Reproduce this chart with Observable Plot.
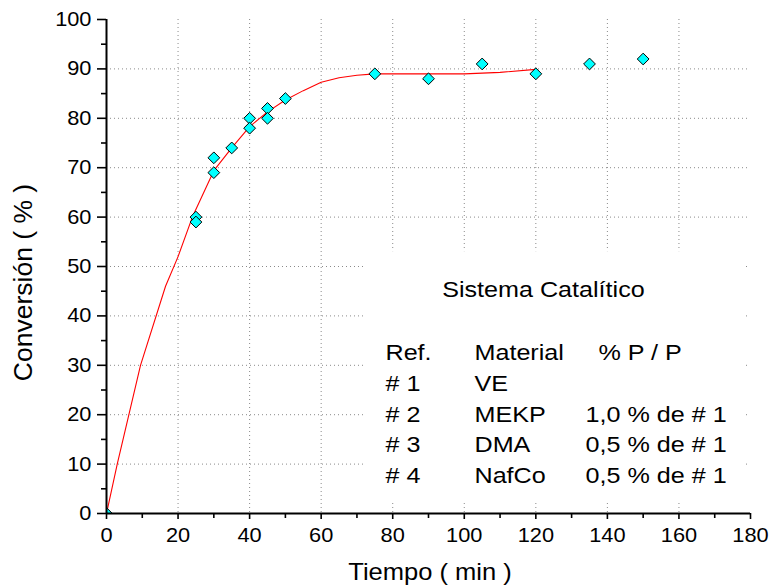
<!DOCTYPE html>
<html>
<head>
<meta charset="utf-8">
<script src="https://cdn.jsdelivr.net/npm/d3@7"></script>
<script src="https://cdn.jsdelivr.net/npm/@observablehq/plot@0.6"></script>
<style>
  html, body { margin: 0; padding: 0; background: #fff; }
  #chart { width: 771px; height: 586px; }
  svg { font-family: "Liberation Sans", Arial, sans-serif; }
</style>
</head>
<body>
<div id="chart"></div>
<script>
// Measured points (Tiempo, min ; Conversión, %)
const timePts = [0, 25, 25, 30, 30, 35, 40, 40, 45, 45, 50, 75, 90, 105, 120, 135, 150];
const convPts = [0, 60, 59, 72, 69, 74, 80, 78, 82, 80, 84, 89, 88, 91, 89, 91, 92];

// Fitted curve (red line)
const fitTime = [0, 3, 9.5, 16.5, 20, 24, 30, 35, 40, 45, 50, 55, 60, 65, 70, 75, 80, 90, 100, 110, 120];
const fitConv = [0, 10, 30, 46, 52, 60, 69.4, 74, 78.3, 81.3, 83.7, 85.6, 87.3, 88.2, 88.7, 89, 89, 89, 89, 89.3, 89.9];

// Axis ticks
const xTicks = [0, 20, 40, 60, 80, 100, 120, 140, 160, 180];
const xMinor = [10, 30, 50, 70, 90, 110, 130, 150, 170];
const yTicks = [0, 10, 20, 30, 40, 50, 60, 70, 80, 90, 100];
const yMinor = [5, 15, 25, 35, 45, 55, 65, 75, 85, 95];
const xGrid = [20, 40, 60, 80, 100, 120, 140, 160];
const yGrid = [10, 20, 30, 40, 50, 60, 70, 80, 90];

// Annotation texts
const boxTitle = "Sistema Catalítico";
const refs = ["Ref.", "# 1", "# 2", "# 3", "# 4"];
const materials = ["Material", "VE", "MEKP", "DMA", "NafCo"];
const pctHeader = "% P / P";
const pcts = ["1,0 % de # 1", "0,5 % de # 1", "0,5 % de # 1"];

const points = timePts.map((t, i) => ({t, c: convPts[i]}));
const fit = fitTime.map((t, i) => ({t, c: fitConv[i]}));

const annFont = 21.5;
const annLH = 30.7 / annFont;
const annStyle = {frameAnchor: "top-left", textAnchor: "start", lineAnchor: "top",
  fontSize: annFont, fill: "black", lineHeight: annLH};

const chart = Plot.plot({
  width: 771,
  height: 586,
  marginLeft: 106,
  marginRight: 21,
  marginTop: 19,
  marginBottom: 73,
  style: {fontFamily: "'Liberation Sans', Arial, sans-serif", background: "white", color: "black"},
  x: {domain: [0, 180]},
  y: {domain: [0, 100]},
  marks: [
    Plot.gridX(xGrid, {stroke: "#8a8a8a", strokeOpacity: 1, strokeDasharray: "1,3", strokeWidth: 1}),
    Plot.gridY(yGrid, {stroke: "#8a8a8a", strokeOpacity: 1, strokeDasharray: "1,3", strokeWidth: 1}),
    // white background of the annotation block
    Plot.rect([0], {x1: () => 72.4, x2: () => 178.6, y1: () => 2.6, y2: () => 53, fill: "white"}),
    Plot.line(fit, {x: "t", y: "c", stroke: "#ff0000", strokeWidth: 1.1}),
    Plot.dot(points, {x: "t", y: "c", symbol: "diamond2", r: 5.3, fill: "#00ffff", stroke: "black", strokeWidth: 1, clip: true}),
    Plot.ruleX([0], {stroke: "black", strokeWidth: 2}),
    Plot.ruleY([0], {stroke: "black", strokeWidth: 2}),
    Plot.axisX({ticks: xTicks, tickSize: 6, tickPadding: 8, fontSize: 20, label: null, stroke: "black", strokeWidth: 1.6, fill: "black"}),
    Plot.axisX({ticks: xMinor, tickSize: 5, text: null, label: null, stroke: "black", strokeWidth: 1.6}),
    Plot.axisY({ticks: yTicks, tickSize: 9, tickPadding: 6, fontSize: 20, label: null, stroke: "black", strokeWidth: 1.6, fill: "black"}),
    Plot.axisY({ticks: yMinor, tickSize: 5, text: null, label: null, stroke: "black", strokeWidth: 1.6}),
    // axis titles
    Plot.text(["Tiempo ( min )"], {frameAnchor: "bottom", text: d => d, textAnchor: "middle", lineAnchor: "top",
      dx: 1.5, dy: 50, fontSize: 23, fill: "black"}),
    Plot.text(["Conversión ( % )"], {frameAnchor: "left", text: d => d, textAnchor: "middle", lineAnchor: "middle",
      rotate: -90, dx: -83, dy: 16, fontSize: 26.5, fill: "black"}),
    // annotation block
    Plot.text([boxTitle], {...annStyle, text: d => d, dx: 335.7, dy: 256}),
    Plot.text([refs.join("\n")], {...annStyle, text: d => d, dx: 279, dy: 319}),
    Plot.text([materials.join("\n")], {...annStyle, text: d => d, dx: 368, dy: 319}),
    Plot.text([pctHeader], {...annStyle, text: d => d, dx: 492, dy: 319}),
    Plot.text([pcts.join("\n")], {...annStyle, text: d => d, dx: 479, dy: 319 + 2 * 30.7})
  ]
});

// the reference glyphs are horizontally wider than the font: stretch each text about its anchor
const stretchBySize = {"21.5": 1.17, "23": 1.11, "20": 1.09};
chart.querySelectorAll("text").forEach(t => {
  const g = t.closest("[font-size]");
  const fs = g ? String(parseFloat(g.getAttribute("font-size"))) : "";
  const s = stretchBySize[fs];
  if (!s) return;
  const tr = t.getAttribute("transform") || "";
  if (tr.includes("rotate")) return;
  const x = parseFloat(t.getAttribute("x")) || 0;
  const y = parseFloat(t.getAttribute("y")) || 0;
  t.setAttribute("transform", `${tr} translate(${x},${y}) scale(${s},1) translate(${-x},${-y})`);
});

document.getElementById("chart").appendChild(chart);
</script>
</body>
</html>
